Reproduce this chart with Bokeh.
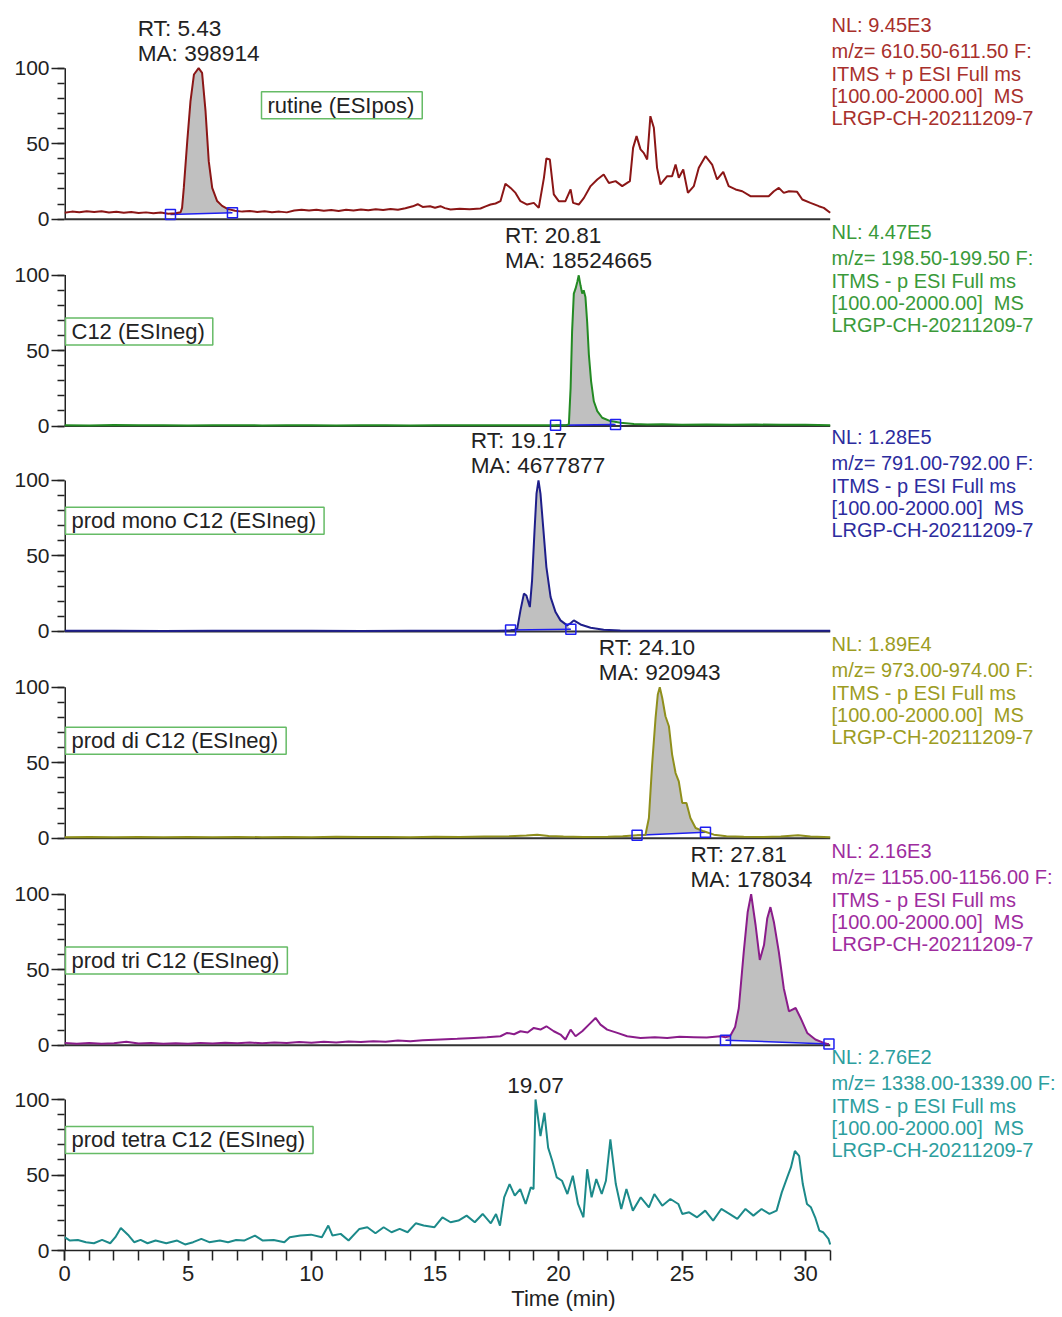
from bokeh.plotting import figure
from bokeh.models import Range1d, FixedTicker, Label, ColumnDataSource
from bokeh.transform import dodge
from bokeh.embed import file_html
from bokeh.resources import INLINE

# ---------------- data ----------------
TIME_MIN, TIME_MAX = 0.0, 31.0
X_TICKS = [0, 5, 10, 15, 20, 25, 30]
Y_TICKS = [0, 50, 100]

rutine_t = [0.0, 0.3, 0.6, 0.9, 1.2, 1.5, 1.8, 2.1, 2.4, 2.7, 3.0, 3.3, 3.6, 3.9, 4.2, 4.5, 4.7,
            4.76, 4.83, 4.97, 5.10, 5.24, 5.43, 5.57, 5.71, 5.84, 5.98, 6.18, 6.38, 6.6, 6.9, 7.2,
            7.5, 7.8, 8.1, 8.4, 8.7, 9.0, 9.3, 9.6, 9.9, 10.2, 10.5, 10.8, 11.1, 11.4, 11.7, 12.0,
            12.3, 12.6, 12.9, 13.2, 13.5, 13.8, 14.1, 14.3, 14.5, 14.8, 15.0, 15.22, 15.4, 15.63,
            16.0, 16.4, 16.84, 17.05, 17.25, 17.45, 17.65, 17.85, 18.06, 18.26, 18.46, 18.73,
            19.0, 19.20, 19.41, 19.51, 19.65, 19.81, 20.01, 20.28, 20.49, 20.59, 20.82, 21.03,
            21.30, 21.57, 21.83, 22.04, 22.31, 22.58, 22.89, 23.02, 23.16, 23.32, 23.45, 23.59,
            23.72, 23.86, 23.99, 24.13, 24.40, 24.60, 24.74, 24.87, 25.05, 25.24, 25.48, 25.68,
            25.95, 26.22, 26.42, 26.67, 26.89, 27.17, 27.44, 27.77, 28.18, 28.51, 28.72, 28.92,
            29.12, 29.33, 29.66, 29.87, 30.20, 30.54, 30.74, 31.0]
rutine_v = [4.3, 5.0, 4.6, 5.3, 4.8, 5.2, 4.4, 4.9, 4.2, 4.7, 4.1, 4.5, 3.9, 4.4, 3.6, 3.9, 4.6,
            7.5, 20.7, 51.7, 78.0, 95.8, 100.0, 96.9, 71.5, 38.4, 20.7, 12.0, 8.8, 6.8, 5.6, 5.0,
            5.4, 4.8, 5.2, 4.6, 5.0, 4.5, 5.8, 6.2, 5.7, 6.3, 5.6, 6.0, 5.4, 6.2, 5.8, 6.4,
            5.9, 6.6, 6.1, 6.8, 6.3, 7.2, 8.5, 9.9, 8.1, 8.6, 7.6, 8.6, 7.3, 6.4,
            6.9, 6.5, 7.1, 8.5, 9.7, 10.4, 11.9, 23.4, 20.7, 17.4, 11.9, 9.7,
            10.8, 7.5, 27.4, 40.2, 39.5, 16.4, 11.9, 11.9, 19.7, 10.8, 9.7, 14.1,
            21.9, 26.3, 29.6, 24.0, 25.2, 21.9, 25.2, 47.2, 55.0, 46.2, 43.9, 39.5,
            68.2, 60.5, 34.0, 23.0, 28.5, 28.5, 36.2, 27.4, 32.9, 17.4, 21.9, 34.0,
            41.7, 36.2, 26.3, 31.3, 21.9, 19.7, 18.5, 15.2, 15.2, 15.2, 18.5, 20.7,
            17.4, 18.5, 18.1, 13.0, 10.8, 8.6, 7.5, 4.2]

c12_t = [0, 1, 2, 3, 4, 5, 6, 7, 8, 9, 10, 11, 12, 13, 14, 15, 16, 17, 18, 19, 19.9, 20.3,
         20.42, 20.49, 20.55, 20.62, 20.69, 20.76, 20.82, 20.89, 20.96, 21.02, 21.09, 21.16,
         21.23, 21.32, 21.43, 21.57, 21.77, 22.1, 22.51, 23.05, 23.6, 24.2, 25, 26, 27, 28,
         29, 30, 31]
c12_v = [0.6, 0.4, 0.7, 0.5, 0.6, 0.4, 0.5, 0.6, 0.4, 0.5, 0.6, 0.4, 0.5, 0.6, 0.4, 0.5, 0.6,
         0.5, 0.6, 0.5, 0.5, 0.6, 1.1, 25.2, 62.5, 87.7, 91.0, 95.4, 99.8, 93.2, 87.7, 89.9,
         85.5, 69.1, 47.2, 29.6, 16.4, 9.9, 5.5, 3.3, 2.2, 1.3, 1.0, 1.2, 0.9, 1.1, 0.9, 1.0,
         0.8, 0.9, 0.6]

mono_t = [0, 2, 4, 6, 8, 10, 12, 14, 16, 17.5, 18.06, 18.2, 18.33, 18.46, 18.60, 18.70, 18.84,
          18.93, 19.03, 19.11, 19.19, 19.27, 19.38, 19.51, 19.68, 19.88, 20.08, 20.35, 20.5,
          20.62, 20.89, 21.30, 21.83, 22.5, 23.5, 25, 26, 27, 28, 29, 30, 31]
mono_v = [0.4, 0.5, 0.3, 0.5, 0.4, 0.5, 0.3, 0.5, 0.4, 0.5, 0.6, 0.9, 1.8, 13.9, 25.0, 23.8,
          16.1, 33.8, 66.9, 91.2, 100.0, 91.2, 69.1, 42.6, 22.7, 12.8, 7.3, 4.0, 5.5, 7.3, 4.6,
          2.4, 1.1, 0.6, 0.4, 0.5, 0.4, 0.5, 0.4, 0.5, 0.4, 0.4]

di_t = [0, 1, 2, 3, 4, 5, 6, 7, 8, 9, 10, 11, 12, 13, 14, 15, 16, 17, 18, 18.7, 19.14, 19.6,
        20.2, 21, 22, 22.6, 23.18, 23.52, 23.66, 23.79, 23.93, 24.02, 24.10, 24.20, 24.33,
        24.47, 24.60, 24.74, 24.87, 25.01, 25.18, 25.34, 25.55, 25.88, 26.29, 26.8, 27.5,
        28.3, 29.0, 29.7, 30.2, 31]
di_v = [0.6, 0.8, 0.6, 0.9, 0.7, 0.8, 0.6, 0.9, 0.7, 0.8, 0.7, 1.0, 0.8, 0.9, 0.7, 1.0, 0.9,
        1.1, 1.3, 1.8, 2.4, 1.5, 1.1, 0.9, 1.0, 1.3, 2.0, 2.2, 13.4, 48.8, 79.7, 95.2, 100.0,
        92.9, 80.8, 74.2, 55.4, 43.2, 37.7, 23.4, 23.4, 13.4, 6.8, 4.6, 2.4, 1.3, 1.0, 0.9,
        1.2, 2.0, 1.1, 0.7]

tri_t = [0, 0.5, 1.0, 1.5, 2.0, 2.5, 3.0, 3.5, 4.0, 4.5, 5.0, 5.5, 6.0, 6.5, 7.0, 7.5, 8.0,
         8.5, 9.0, 9.5, 10.0, 10.5, 11.0, 11.5, 12.0, 12.5, 13.0, 13.5, 14.0, 14.5, 15.22,
         15.9, 16.57, 17.1, 17.65, 17.92, 18.2, 18.46, 18.75, 19.0, 19.27, 19.51, 19.81,
         20.08, 20.28, 20.49, 20.69, 20.96, 21.23, 21.50, 21.70, 21.97, 22.38, 22.78, 23.32,
         23.9, 24.40, 24.9, 25.48, 26.0, 26.56, 26.76, 26.95, 27.15, 27.30, 27.50, 27.66,
         27.80, 27.98, 28.15, 28.32, 28.45, 28.58, 28.72, 28.92, 29.12, 29.33, 29.60, 29.80,
         30.07, 30.40, 30.74, 30.95]
tri_v = [1.5, 1.0, 1.4, 0.9, 1.3, 2.2, 1.1, 1.4, 0.9, 1.3, 1.0, 1.5, 1.1, 1.6, 1.2, 1.7, 1.3,
         1.8, 1.4, 2.0, 1.6, 2.2, 1.8, 2.4, 2.0, 2.6, 2.3, 3.0, 2.6, 3.3, 3.8,
         4.2, 4.8, 5.2, 5.9, 8.1, 7.2, 9.2, 8.4, 11.4, 10.3, 12.5, 9.2,
         7.0, 3.7, 10.3, 5.9, 9.2, 13.6, 18.0, 13.6, 10.3, 8.1, 5.9, 4.8,
         5.3, 4.8, 5.5, 5.3, 5.1, 5.9, 5.2, 6.0, 12.0, 24.6, 61.8, 88.2,
         100.0, 79.4, 56.4, 66.3, 83.8, 91.4, 81.6, 61.8, 37.7, 22.4, 24.6, 18.0,
         8.1, 3.7, 1.5, 0.5]

tetra_t = [0.0, 0.22, 0.54, 0.87, 1.19, 1.52, 1.85, 2.06, 2.28, 2.60, 2.82, 3.08, 3.36, 3.69,
           4.12, 4.56, 4.88, 5.21, 5.54, 5.86, 6.29, 6.62, 6.95, 7.27, 7.71, 8.03, 8.47, 8.90,
           9.12, 9.55, 9.98, 10.42, 10.68, 10.85, 11.18, 11.50, 11.94, 12.26, 12.59, 12.92,
           13.24, 13.57, 13.89, 14.22, 14.54, 14.98, 15.30, 15.63, 15.95, 16.28, 16.61, 16.93,
           17.26, 17.47, 17.63, 17.80, 18.02, 18.23, 18.45, 18.67, 18.88, 18.99, 19.07, 19.27,
           19.43, 19.58, 19.75, 19.93, 20.14, 20.36, 20.58, 20.79, 21.01, 21.16, 21.34, 21.53,
           21.75, 21.92, 22.10, 22.32, 22.54, 22.75, 23.01, 23.33, 23.66, 23.88, 24.20, 24.53,
           24.85, 25.01, 25.29, 25.61, 25.94, 26.26, 26.59, 26.92, 27.24, 27.57, 27.89, 28.22,
           28.54, 28.83, 29.04, 29.26, 29.41, 29.57, 29.74, 29.89, 30.06, 30.22, 30.39, 30.56,
           30.71, 30.93, 31.0]
tetra_v = [8.8, 6.6, 7.0, 5.5, 4.8, 7.0, 4.8, 8.8, 14.9, 9.9, 5.5, 7.0, 4.8, 6.6,
           4.8, 6.6, 4.0, 5.5, 7.7, 5.5, 6.6, 5.5, 7.0, 6.6, 9.9, 6.6, 7.0, 5.5,
           8.8, 9.9, 10.5, 8.8, 16.5, 9.9, 11.0, 6.6, 14.3, 15.4, 11.4, 15.4,
           12.1, 14.3, 12.1, 18.0, 16.5, 15.4, 22.0, 18.7, 19.8, 23.1, 18.7, 24.2,
           18.0, 24.2, 16.5, 35.2, 44.0, 36.3, 40.7, 30.8, 41.8, 40.7, 100.0, 75.8,
           91.2, 68.1, 59.3, 48.4, 46.2, 37.4, 49.5, 30.8, 22.0, 53.8, 35.2, 47.3,
           37.4, 46.2, 73.6, 44.0, 27.5, 40.7, 26.4, 35.2, 28.6, 37.4, 29.7, 34.1,
           30.8, 24.2, 25.3, 22.0, 26.4, 19.8, 27.5, 24.2, 20.9, 27.5, 23.1, 27.5,
           24.2, 26.4, 38.5, 48.4, 55.0, 65.9, 62.6, 44.0, 30.8, 28.6, 22.0, 13.2,
           12.1, 7.7, 4.0]

names = ["rutine (ESIpos)", "C12 (ESIneg)", "prod mono C12 (ESIneg)",
         "prod di C12 (ESIneg)", "prod tri C12 (ESIneg)", "prod tetra C12 (ESIneg)"]
nl_values = ["9.45E3", "4.47E5", "1.28E5", "1.89E4", "2.16E3", "2.76E2"]
mz_ranges = ["610.50-611.50", "198.50-199.50", "791.00-792.00", "973.00-974.00",
             "1155.00-1156.00", "1338.00-1339.00"]
polarity = ["+", "-", "-", "-", "-", "-"]
rt_values = [5.43, 20.81, 19.17, 24.10, 27.81, 19.07]
ma_values = [398914, 18524665, 4677877, 920943, 178034, None]
# integration limits: (start time, start level, end time, end level)
integ = [(4.29, 3.1, 6.80, 4.2), (19.88, 0.5, 22.31, 1.0), (18.06, 1.0, 20.50, 1.5),
         (23.18, 2.0, 25.95, 4.0), (26.76, 3.3, 30.95, 0.8), None]

trace_colors = ["#8B1616", "#238A23", "#1E1E8A", "#8F8F1C", "#8A1C8A", "#1C8A8A"]
text_colors = ["#A8302C", "#3A9A3A", "#2C2C9E", "#9C9C22", "#9E2C9E", "#2C9E9E"]

series = [(rutine_t, rutine_v), (c12_t, c12_v), (mono_t, mono_v),
          (di_t, di_v), (tri_t, tri_v), (tetra_t, tetra_v)]

# ---------------- layout ----------------
FONT = "Liberation Sans"
PX_MIN = 24.7           # px per minute
PX_UNIT = 1.51          # px per % relative abundance
LEFT = 64
BOTTOM = 67
WIDTH, HEIGHT = 1062, 1317
# vertical offset of each stacked trace (in % units), top panel first
offsets = [683, 546, 410, 273, 136, 0]
box_left = [261, 65, 65, 65, 65, 65]
box_y = [75.5, 62.6, 73.2, 64.6, 56.0, 73.2]
info_px = [194, 168, 145, 123, 101]

ARIAL = {"M": 0.833, "A": 0.667, ":": 0.278, " ": 0.278, ".": 0.278}


def text_w(s, size):
    return sum(ARIAL.get(ch, 0.556) for ch in s) * size


frame_w = WIDTH - LEFT
frame_h = HEIGHT - BOTTOM
p = figure(width=WIDTH, height=HEIGHT,
           x_range=Range1d(0, frame_w / PX_MIN), y_range=Range1d(0, frame_h / PX_UNIT),
           output_backend="svg", toolbar_location=None,
           min_border_left=LEFT, min_border_right=0, min_border_top=0,
           min_border_bottom=BOTTOM)
p.outline_line_color = None
p.xgrid.visible = False
p.ygrid.visible = False
p.background_fill_color = "white"
p.border_fill_color = "white"

INK = "#222222"

# y axis: one tick set per stacked panel, labelled 0 / 50 / 100
ya = p.yaxis[0]
major = [o + y for o in offsets for y in Y_TICKS]
minor = [o + y for o in offsets for y in range(0, 101, 10)]
ya.ticker = FixedTicker(ticks=major, minor_ticks=minor)
ya.major_label_overrides = {o + y: str(y) for o in offsets for y in Y_TICKS}
ya.axis_line_color = None
ya.major_tick_out = 13
ya.major_tick_in = 0
ya.minor_tick_out = 7
ya.minor_tick_in = 0
ya.major_label_standoff = 2
ya.major_label_text_font = FONT
ya.major_label_text_font_size = "21px"
ya.major_label_text_color = INK
ya.major_tick_line_color = INK
ya.major_tick_line_width = 1.5
ya.minor_tick_line_color = INK
ya.minor_tick_line_width = 1.5

# time axis
xa = p.xaxis[0]
xa.bounds = (TIME_MIN, TIME_MAX)
xa.ticker = FixedTicker(ticks=X_TICKS, minor_ticks=list(range(0, 32)))
xa.major_tick_out = 10
xa.minor_tick_out = 10
xa.major_tick_in = 0
xa.minor_tick_in = 0
xa.major_label_standoff = 5
xa.major_label_text_font = FONT
xa.major_label_text_font_size = "22px"
xa.major_label_text_color = INK
xa.axis_line_color = INK
xa.axis_line_width = 1.5
xa.major_tick_line_color = INK
xa.major_tick_line_width = 1.5
xa.minor_tick_line_color = INK
xa.minor_tick_line_width = 1.5
xa.axis_label = "Time (min)"
xa.axis_label_text_font = FONT
xa.axis_label_text_font_size = "22px"
xa.axis_label_text_font_style = "normal"
xa.axis_label_text_color = INK
xa.axis_label_standoff = 2

info_x = (831 - LEFT) / PX_MIN

for k in range(6):
    off = offsets[k]
    # per-panel intensity axis line (0-100) and time baseline
    p.segment(x0=[TIME_MIN], y0=[off], x1=[TIME_MIN], y1=[off + 100],
              line_color=INK, line_width=3)
    if k < 5:
        p.segment(x0=[TIME_MIN], y0=[off], x1=[TIME_MAX], y1=[off],
                  line_color="#333333", line_width=2)

    t, v = series[k]
    if integ[k] is not None:
        ts, bs, te, be = integ[k]
        px = [ts] + [a for a in t if ts < a < te] + [te]
        py = [bs] + [b for a, b in zip(t, v) if ts < a < te] + [be]
        area = ColumnDataSource(dict(x=px + [te, ts], y=py + [be, bs]))
        p.patch("x", dodge("y", off), source=area, fill_color="#C0C0C0", line_color=None)
        lims = ColumnDataSource(dict(x=[ts, te], y=[bs, be]))
        p.line("x", dodge("y", off), source=lims, line_color="#1F1FF0", line_width=1.5)
    src = ColumnDataSource(dict(t=t, v=v))
    p.line("t", dodge("v", off), source=src, line_color=trace_colors[k], line_width=2)
    if integ[k] is not None:
        p.scatter("x", dodge("y", off), source=lims, marker="square", size=10,
                  fill_color=None, line_color="#1F1FF0", line_width=1.5)

    # peak annotation
    rt = rt_values[k]
    if ma_values[k] is not None:
        ma_txt = "MA: %d" % ma_values[k]
        left_t = rt - (text_w(ma_txt, 22.6) / 2) / PX_MIN
        p.add_layout(Label(x=left_t, y=off + 191 / PX_UNIT, text="RT: %.2f" % rt,
                           text_font=FONT, text_font_size="22.6px", text_color=INK,
                           text_align="left", text_baseline="middle"))
        p.add_layout(Label(x=left_t, y=off + 166 / PX_UNIT, text=ma_txt,
                           text_font=FONT, text_font_size="22.6px", text_color=INK,
                           text_align="left", text_baseline="middle"))
    else:
        p.add_layout(Label(x=rt, y=off + 165 / PX_UNIT, text="%.2f" % rt,
                           text_font=FONT, text_font_size="22.6px", text_color=INK,
                           text_align="center", text_baseline="middle"))

    # name box
    p.add_layout(Label(x=(box_left[k] - LEFT) / PX_MIN, y=off + box_y[k], text=names[k],
                       text_font=FONT, text_font_size="22px", text_color=INK,
                       text_align="left", text_baseline="middle",
                       border_line_color="#66BB66", border_line_width=1.5,
                       background_fill_color="white",
                       padding=dict(left=6, right=8, top=1, bottom=1)))

    # info block on the right
    lines = ["NL: " + nl_values[k],
             "m/z= " + mz_ranges[k] + " F:",
             "ITMS " + polarity[k] + " p ESI Full ms",
             "[100.00-2000.00]\u00a0 MS",
             "LRGP-CH-20211209-7"]
    for ln, dy in zip(lines, info_px):
        p.add_layout(Label(x=info_x, y=off + dy / PX_UNIT, text=ln, text_font=FONT,
                           text_font_size="20px", text_color=text_colors[k],
                           text_align="left", text_baseline="middle"))

open("out.html", "w").write(file_html(p, INLINE))
